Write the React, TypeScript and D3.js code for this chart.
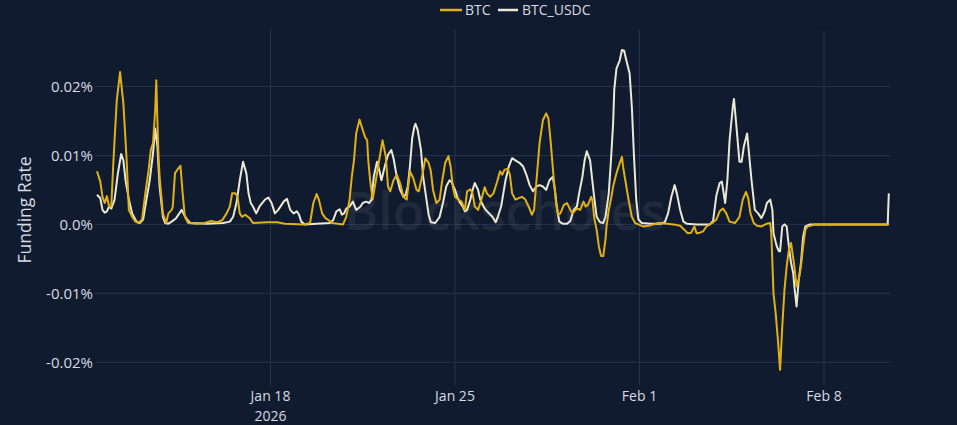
import React from "react";
import * as d3 from "d3";

// Funding rate series: [hours since 2026-01-11 00:00, rate in %]
const BTC: [number, number][] = [
  [10,0.0077],[13,0.0062],[15,0.0040],[17,0.0031],[19,0.0041],[21,0.0026],[23,0.0026],[25,0.0093],[28,0.0180],[31,0.0221],[34,0.0176],[37,0.0093],[39,0.0021],[42,0.0011],[45,0.0004],[48,0.0002],[51,0.0007],[54,0.0045],[57,0.0079],[59,0.0108],[61,0.0118],[63,0.0166],[64,0.0209],[65,0.0150],[66,0.0100],[67,0.0069],[70,0.0016],[73,0.0002],[75,0.0016],[78,0.0021],[79,0.0026],[81,0.0074],[83,0.0079],[86,0.0085],[88,0.0045],[90,0.0011],[93,0.0002],[100,0.0001],[108,0.0002],[114,0.0005],[119,0.0003],[124,0.0006],[128,0.0016],[131,0.0026],[133,0.0045],[136,0.0045],[138,0.0040],[140,0.0016],[142,0.0011],[145,0.0014],[149,0.0009],[152,0.0002],[165,0.0003],[174,0.0003],[181,0.0001],[199,0.0000],[204,0.0002],[207,0.0031],[210,0.0044],[212,0.0036],[215,0.0016],[218,0.0009],[221,0.0006],[224,0.0002],[234,0.0000],[237,0.0011],[240,0.0036],[242,0.0069],[244,0.0093],[246,0.0132],[249,0.0152],[252,0.0137],[254,0.0127],[256,0.0122],[257,0.0093],[259,0.0060],[261,0.0036],[263,0.0055],[266,0.0084],[270,0.0122],[273,0.0098],[275,0.0055],[277,0.0048],[280,0.0064],[283,0.0072],[286,0.0060],[289,0.0040],[292,0.0036],[295,0.0077],[298,0.0067],[301,0.0050],[303,0.0048],[306,0.0069],[309,0.0096],[312,0.0089],[314,0.0077],[316,0.0050],[319,0.0031],[322,0.0036],[324,0.0060],[327,0.0089],[330,0.0099],[332,0.0084],[334,0.0055],[336,0.0040],[339,0.0036],[342,0.0033],[345,0.0021],[347,0.0048],[350,0.0051],[352,0.0045],[354,0.0026],[357,0.0021],[360,0.0036],[363,0.0054],[365,0.0045],[368,0.0040],[371,0.0045],[374,0.0060],[377,0.0077],[379,0.0072],[381,0.0079],[384,0.0081],[386,0.0072],[388,0.0045],[391,0.0036],[394,0.0038],[397,0.0040],[400,0.0036],[403,0.0026],[406,0.0014],[408,0.0021],[410,0.0060],[413,0.0118],[416,0.0151],[419,0.0161],[421,0.0154],[423,0.0122],[426,0.0064],[428,0.0031],[430,0.0014],[432,0.0016],[435,0.0028],[438,0.0031],[441,0.0021],[443,0.0016],[447,0.0023],[450,0.0021],[453,0.0033],[455,0.0026],[457,0.0028],[460,0.0040],[461,0.0036],[463,0.0007],[465,-0.0008],[467,-0.0032],[469,-0.0046],[471,-0.0046],[473,-0.0022],[474,-0.0003],[476,0.0021],[478,0.0036],[480,0.0055],[483,0.0074],[486,0.0089],[488,0.0098],[489,0.0084],[492,0.0055],[494,0.0036],[497,0.0011],[500,0.0002],[503,0.0000],[507,-0.0003],[512,-0.0002],[517,0.0000],[521,0.0002],[529,0.0001],[535,0.0000],[541,-0.0002],[545,-0.0008],[548,-0.0013],[551,-0.0012],[554,-0.0003],[556,-0.0013],[559,-0.0012],[562,-0.0010],[565,-0.0003],[568,0.0000],[571,0.0003],[574,0.0007],[577,0.0019],[580,0.0023],[583,0.0016],[586,0.0004],[591,0.0002],[595,0.0011],[598,0.0036],[601,0.0047],[603,0.0038],[605,0.0016],[608,0.0002],[611,-0.0002],[615,-0.0003],[620,0.0001],[623,0.0002],[624,-0.0013],[625,-0.0056],[626,-0.0100],[628,-0.0129],[630,-0.0167],[632,-0.0211],[634,-0.0148],[636,-0.0095],[638,-0.0061],[640,-0.0037],[642,-0.0027],[645,-0.0061],[647,-0.0090],[649,-0.0080],[651,-0.0061],[653,-0.0032],[655,-0.0008],[657,-0.0003],[664,0.0000],[731,0.0000]
];

const BTC_USDC: [number, number][] = [
  [10,0.0043],[13,0.0038],[15,0.0021],[17,0.0017],[19,0.0019],[21,0.0026],[23,0.0023],[26,0.0036],[29,0.0074],[32,0.0102],[34,0.0093],[36,0.0064],[39,0.0036],[42,0.0016],[46,0.0004],[49,0.0002],[52,0.0007],[55,0.0036],[58,0.0064],[61,0.0103],[63,0.0139],[65,0.0113],[67,0.0055],[70,0.0011],[72,0.0002],[75,0.0001],[78,0.0004],[82,0.0009],[85,0.0016],[87,0.0021],[89,0.0015],[92,0.0007],[95,0.0002],[110,0.0001],[125,0.0002],[131,0.0004],[134,0.0011],[137,0.0031],[140,0.0064],[143,0.0091],[146,0.0074],[148,0.0045],[150,0.0031],[152,0.0026],[155,0.0016],[158,0.0026],[163,0.0036],[166,0.0039],[169,0.0031],[172,0.0016],[175,0.0021],[180,0.0033],[183,0.0037],[186,0.0021],[189,0.0016],[192,0.0019],[194,0.0014],[196,0.0004],[199,0.0000],[210,0.0001],[222,0.0002],[225,0.0006],[228,0.0019],[231,0.0022],[233,0.0014],[235,0.0016],[237,0.0023],[240,0.0026],[243,0.0033],[246,0.0021],[250,0.0026],[252,0.0031],[255,0.0033],[258,0.0031],[260,0.0036],[262,0.0069],[265,0.0091],[267,0.0079],[269,0.0064],[272,0.0084],[275,0.0101],[278,0.0108],[280,0.0096],[283,0.0069],[286,0.0050],[289,0.0040],[291,0.0043],[293,0.0055],[295,0.0085],[297,0.0125],[299,0.0142],[300,0.0146],[302,0.0137],[305,0.0108],[307,0.0069],[310,0.0036],[312,0.0014],[314,0.0003],[318,0.0002],[322,0.0011],[325,0.0031],[328,0.0055],[331,0.0064],[333,0.0061],[336,0.0050],[338,0.0040],[340,0.0033],[343,0.0026],[345,0.0019],[347,0.0021],[350,0.0036],[352,0.0050],[354,0.0060],[357,0.0050],[359,0.0036],[362,0.0026],[364,0.0021],[367,0.0016],[370,0.0011],[373,0.0003],[375,0.0011],[378,0.0026],[380,0.0045],[382,0.0064],[385,0.0084],[388,0.0096],[391,0.0093],[395,0.0089],[398,0.0084],[401,0.0072],[404,0.0057],[407,0.0048],[410,0.0055],[413,0.0057],[416,0.0055],[419,0.0050],[422,0.0064],[425,0.0069],[427,0.0050],[429,0.0021],[431,0.0004],[434,0.0001],[438,0.0001],[441,0.0005],[444,0.0021],[447,0.0026],[449,0.0045],[452,0.0069],[454,0.0093],[456,0.0106],[459,0.0093],[461,0.0064],[463,0.0036],[465,0.0011],[468,0.0003],[471,0.0002],[473,0.0011],[476,0.0045],[478,0.0093],[480,0.0147],[481,0.0195],[483,0.0226],[486,0.0238],[488,0.0253],[490,0.0252],[492,0.0238],[495,0.0219],[497,0.0171],[499,0.0098],[501,0.0036],[503,0.0007],[506,0.0002],[514,0.0001],[523,0.0001],[527,0.0003],[530,0.0016],[533,0.0040],[536,0.0057],[538,0.0045],[541,0.0021],[544,0.0004],[547,0.0001],[556,0.0000],[568,0.0000],[571,0.0005],[574,0.0042],[577,0.0060],[579,0.0062],[582,0.0031],[584,0.0064],[586,0.0122],[589,0.0171],[590,0.0182],[592,0.0147],[595,0.0091],[597,0.0091],[599,0.0113],[602,0.0132],[604,0.0098],[606,0.0064],[609,0.0021],[612,0.0016],[615,0.0009],[618,0.0019],[620,0.0031],[623,0.0036],[625,0.0021],[626,-0.0013],[629,-0.0032],[631,-0.0039],[632,-0.0039],[634,-0.0003],[636,0.0000],[638,-0.0003],[640,-0.0032],[642,-0.0056],[644,-0.0071],[645,-0.0090],[647,-0.0119],[649,-0.0080],[651,-0.0056],[653,-0.0018],[655,-0.0003],[659,0.0000],[730,0.0000],[731,0.0045]
];

const SERIES_NAMES = ["BTC", "BTC_USDC"];
const SERIES_COLORS = ["#e0b015", "#eae9d6"];
const Y_TICKS = [0.02, 0.01, 0, -0.01, -0.02];
const Y_TICK_LABELS = ["0.02%", "0.01%", "0.0%", "-0.01%", "-0.02%"];
const X_TICKS = [new Date(2026, 0, 18), new Date(2026, 0, 25), new Date(2026, 1, 1), new Date(2026, 1, 8)];
const X_TICK_LABELS = ["Jan 18", "Jan 25", "Feb 1", "Feb 8"];
const X_TICK_SUB = ["2026", "", "", ""];
const START = new Date(2026, 0, 11);

const W = 957, H = 425;
const BG = "#111b2f";
const GRID = "#25334d";
const TEXT = "#d6dae2";
const FONT = "'Open Sans', 'Noto Sans', sans-serif";

const toDate = (h: number) => new Date(START.getTime() + h * 3600 * 1000);

export default function App() {
  const x = d3.scaleTime().domain([toDate(10), toDate(731)]).range([97, 888.8]);
  const y = d3.scaleLinear().domain([-0.0233, 0.0282]).range([385, 30]);
  const line = d3.line<[number, number]>().x(d => x(toDate(d[0]))).y(d => y(d[1]));
  const plotL = 95, plotR = 890, plotT = 30, plotB = 385;

  return (
    <svg width={W} height={H} style={{ position: "absolute", left: 0, top: 0, display: "block" }} fontFamily={FONT}>
      <rect x={0} y={0} width={W} height={H} fill={BG} />
      {Y_TICKS.map((t, i) => (
        <g key={"y" + i}>
          <line x1={plotL} x2={plotR} y1={y(t)} y2={y(t)} stroke={GRID} strokeWidth={1} />
          <text x={93} y={y(t) + 5.5} textAnchor="end" fontSize={15} fill={TEXT}>{Y_TICK_LABELS[i]}</text>
        </g>
      ))}
      {X_TICKS.map((t, i) => (
        <g key={"x" + i}>
          <line x1={x(t)} x2={x(t)} y1={plotT} y2={plotB} stroke={GRID} strokeWidth={1} />
          <text x={x(t)} y={401} textAnchor="middle" fontSize={14} fill={TEXT}>{X_TICK_LABELS[i]}</text>
          {X_TICK_SUB[i] && <text x={x(t)} y={420.5} textAnchor="middle" fontSize={14} fill={TEXT}>{X_TICK_SUB[i]}</text>}
        </g>
      ))}
      <text x={505} y={230} textAnchor="middle" fontSize={52} fontWeight={600} fill="#8a93a6" opacity={0.12}>Blockscholes</text>
      <text transform={`translate(31,210) rotate(-90)`} textAnchor="middle" fontSize={17.5} fill={TEXT}>Funding Rate</text>
      <path d={line(BTC_USDC) || ""} fill="none" stroke={SERIES_COLORS[1]} strokeWidth={2} strokeLinejoin="round" />
      <path d={line(BTC) || ""} fill="none" stroke={SERIES_COLORS[0]} strokeWidth={2} strokeLinejoin="round" />
      <g>
        <line x1={440} x2={462} y1={10} y2={10} stroke={SERIES_COLORS[0]} strokeWidth={2.5} />
        <text x={465} y={15} fontSize={14} fill={TEXT}>{SERIES_NAMES[0]}</text>
        <line x1={498} x2={518} y1={10} y2={10} stroke={SERIES_COLORS[1]} strokeWidth={2.5} />
        <text x={522} y={15} fontSize={14} fill={TEXT}>{SERIES_NAMES[1]}</text>
      </g>
    </svg>
  );
}
